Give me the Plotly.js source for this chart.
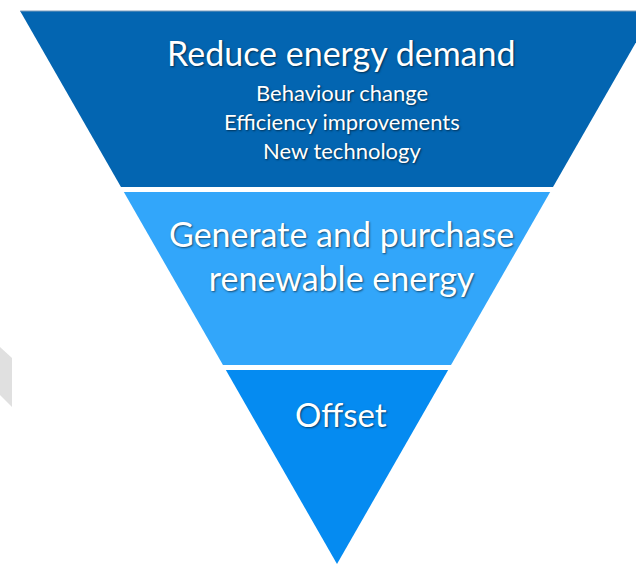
<!DOCTYPE html>
<html>
<head>
<meta charset="utf-8">
<script src="https://cdn.plot.ly/plotly-3.0.1.min.js"></script>
<style>html,body{margin:0;padding:0;background:#fff;}#chart{width:636px;height:565px;}</style>
</head>
<body>
<div id="chart"></div>
<script>
// Levels of the hierarchy (top to bottom)
const levels = ["Reduce energy demand", "Generate and purchase<br>renewable energy", "Offset"];
const subItems = [["Behaviour change", "Efficiency improvements", "New technology"], [], []];
const bandTop = [11, 192, 370];
const bandBottom = [187, 365, 564];
const bandColors = ["#0365B1", "#32A6FA", "#058BF1"];
const labelY = [52, 255, 414];
const subY = [92, 121, 150];

// triangle geometry
const apexX = 337, apexY = 564, slope = 0.573;
function halfW(y) { return (apexY - y) * slope; }

const traces = [];
// grey decoration at left edge
traces.push({
  x: [0, 12, 12, 0, 0], y: [347, 358, 407, 395, 347],
  type: 'scatter', mode: 'lines', fill: 'toself',
  fillcolor: '#E0E0E0', line: {width: 0, color: '#E0E0E0'}, hoverinfo: 'skip', showlegend: false
});
for (let i = 0; i < levels.length; i++) {
  const t = bandTop[i], b = bandBottom[i];
  traces.push({
    x: [apexX - halfW(t), apexX + halfW(t), apexX + halfW(b), apexX - halfW(b), apexX - halfW(t)],
    y: [t, t, b, b, t],
    type: 'scatter', mode: 'lines', fill: 'toself',
    fillcolor: bandColors[i], line: {width: 0, color: bandColors[i]},
    hoverinfo: 'skip', showlegend: false
  });
}
// thin light edge along the top of the funnel
traces.push({
  x: [apexX - halfW(bandTop[0]), apexX + halfW(bandTop[0])], y: [bandTop[0], bandTop[0]],
  type: 'scatter', mode: 'lines', line: {width: 1.2, color: '#7E9DBB'},
  hoverinfo: 'skip', showlegend: false
});

const shadow = '1px 1px 2px rgba(0,0,0,0.55)';
const annotations = [];
const mainSizes = [34, 34, 33];
for (let i = 0; i < levels.length; i++) {
  annotations.push({
    x: apexX + 4, y: labelY[i], xref: 'x', yref: 'y', text: levels[i], showarrow: false,
    font: {family: 'Lato, sans-serif', size: mainSizes[i], color: '#FFFFFF', shadow: shadow},
    align: 'center'
  });
  subItems[i].forEach((s, j) => {
    annotations.push({
      x: apexX + 5, y: subY[j], xref: 'x', yref: 'y', text: s, showarrow: false,
      font: {family: 'Lato, sans-serif', size: 22, color: '#FFFFFF', shadow: shadow},
      align: 'center'
    });
  });
}

const layout = {
  width: 636, height: 565,
  margin: {l: 0, r: 0, t: 0, b: 0},
  paper_bgcolor: '#FFFFFF', plot_bgcolor: '#FFFFFF',
  xaxis: {range: [0, 636], visible: false, fixedrange: true},
  yaxis: {range: [565, 0], visible: false, fixedrange: true},
  annotations: annotations,
  showlegend: false
};
Plotly.newPlot('chart', traces, layout, {displayModeBar: false, staticPlot: true});
</script>
</body>
</html>
